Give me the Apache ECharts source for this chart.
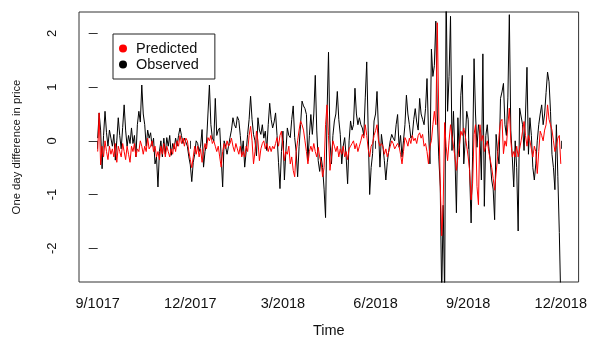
<!DOCTYPE html>
<html>
<head>
<meta charset="utf-8">
<script src="https://cdn.jsdelivr.net/npm/echarts@6/dist/echarts.min.js"></script>
<style>
html,body{margin:0;padding:0;background:#fff;}
#chart{width:590px;height:343px;}
</style>
</head>
<body>
<div id="chart"></div>
<script>
// tick labels at months 0,3,6,9,12,15 after the start of the series
var tickMonths = [0, 3, 6, 9, 12, 15];
var tickLabels = ['9/1017', '12/2017', '3/2018', '6/2018', '9/2018', '12/2018'];
var yTicks = [-2, -1, 0, 1, 2];

var observed = [
 0.05,0.52,0.2,-0.52,0.1,0.55,0.15,-0.1,0.2,0.05,
 -0.1,0.12,-0.36,0.0,0.43,0.1,-0.15,0.25,0.67,0.2,
 -0.1,0.1,-0.05,0.24,-0.05,0.1,-0.3,0.3,0.55,0.35,
 1.04,0.5,0.3,-0.1,0.2,0.05,0.15,-0.1,0.05,-0.43,
 -0.3,-0.86,-0.2,0.0,-0.3,0.05,-0.25,0.06,-0.1,0.1,
 -0.27,-0.05,-0.15,0.05,-0.1,0.1,0.24,0.1,-0.05,0.05,
 0.06,-0.1,-0.3,-0.45,-0.76,-0.4,-0.25,0.0,-0.05,-0.2,
 -0.1,0.21,-0.49,-0.2,-0.05,0.5,1.04,0.3,0.05,0.0,
 0.79,0.1,0.2,0.24,-0.3,-0.86,0.0,-0.1,-0.25,-0.1,
 0.06,0.2,0.43,0.3,0.24,0.45,0.38,0.1,-0.25,0.0,
 -0.49,-0.2,0.12,0.4,0.83,0.4,0.12,0.0,-0.28,0.43,
 0.2,0.12,0.3,0.05,0.18,-0.18,0.3,0.7,0.4,0.24,
 0.35,0.52,0.1,-0.4,-0.89,-0.2,0.18,-0.73,-0.2,0.24,
 0.1,0.06,0.4,0.65,0.06,-0.2,-0.67,-0.1,0.3,0.74,
 0.65,0.6,0.49,-0.37,0.1,0.49,0.12,0.5,1.22,0.2,
 -0.37,-0.57,
 -0.3,-0.5,-0.9,-1.43,0.5,1.65,0.0,-0.43,0.1,0.37,
 0.5,0.92,0.4,0.12,-0.43,-0.1,0.06,-0.3,-0.8,0.0,
 0.37,0.2,0.3,0.98,0.5,0.3,0.43,0.3,0.24,0.1,
 0.8,1.47,0.2,-1.0,-0.5,-0.24,0.37,0.5,0.92,0.2,
 -0.49,0.12,-0.1,-0.37,-0.73,-0.4,-0.18,0.0,0.12,0.05,
 0.0,0.3,0.49,
 -0.12,0.1,-0.3,0.0,0.3,0.85,0.5,0.3,0.05,0.1,
 0.4,0.6,0.35,0.2,0.79,0.5,0.4,0.3,0.6,1.16,
 0.2,-0.43,1.71,1.2,1.4,2.23,0.5,-0.3,-0.86,-2.9,
 -1.2,-2.9,2.8,0.55,1.2,2.32,-0.18,0.55,-0.3,-1.34,
 0.43,-0.3,0.85,1.22,-0.43,0.0,0.55,0.4,-0.6,-1.53,
 -0.3,1.53,0.5,
 -0.12,0.3,0.1,-0.73,1.62,-1.22,0.1,0.3,-0.1,-0.37,
 -0.73,-0.9,-1.47,0.12,-0.2,-0.43,0.79,0.91,1.07,0.3,
 0.1,0.8,2.35,0.2,-0.3,-0.86,0.0,-0.5,-1.68,0.61,
 0.61,0.3,-0.18,0.5,1.37,-0.25,0.43,0.1,-0.5,-0.73,
 -0.43,0.0,0.3,0.5,0.67,0.3,0.5,0.9,1.28,1.1,
 0.55,-0.25,-0.5,-0.91,0.3,-0.67,-1.71,-3.0
];

var predicted = [
 -0.2,0.52,-0.45,-0.1,-0.3,0.0,-0.2,-0.35,-0.1,-0.25,
 -0.15,-0.3,-0.05,-0.4,-0.1,-0.2,-0.3,-0.05,-0.2,-0.35,
 -0.1,-0.25,-0.4,-0.1,-0.2,-0.05,-0.3,-0.15,-0.2,0.0,
 -0.1,-0.25,-0.1,-0.2,0.05,-0.15,-0.1,0.0,-0.2,-0.1,
 -0.3,-0.2,-0.35,-0.1,-0.25,-0.05,-0.3,-0.1,-0.2,-0.3,
 -0.15,-0.25,-0.05,-0.2,0.0,-0.1,0.1,-0.05,0.05,-0.1,
 0.05,0.0,-0.2,-0.35,-0.5,-0.3,-0.1,-0.25,-0.1,-0.3,
 -0.15,-0.4,-0.2,-0.05,-0.15,0.06,0.0,0.1,-0.05,0.0,
 -0.1,-0.2,-0.1,-0.3,-0.49,-0.2,-0.05,-0.15,0.0,-0.1,
 -0.05,0.05,-0.1,-0.2,-0.05,-0.15,-0.25,-0.1,-0.3,-0.2,
 -0.3,-0.1,-0.2,0.1,0.27,0.0,-0.43,-0.2,0.18,0.0,
 -0.37,-0.15,-0.05,0.0,-0.15,-0.05,-0.2,-0.1,-0.2,-0.1,
 -0.15,-0.05,0.06,-0.1,0.1,0.18,-0.1,-0.37,-0.2,-0.25,
 -0.1,-0.43,-0.3,-0.55,-0.67,-0.2,0.0,0.2,0.37,0.3,
 0.2,0.0,-0.2,-0.43,-0.2,-0.1,-0.2,-0.05,-0.2,-0.3,
 -0.12,-0.3,
 -0.4,-0.67,-0.5,0.3,0.67,0.1,-0.55,-0.3,0.0,-0.1,
 -0.2,-0.1,-0.3,-0.15,-0.25,-0.1,-0.3,-0.2,-0.35,-0.15,
 -0.1,-0.05,0.0,-0.15,-0.05,-0.2,-0.1,0.0,0.12,0.05,
 0.3,0.1,-0.15,-0.3,-0.1,-0.05,0.1,0.19,0.3,0.0,
 -0.1,-0.05,-0.1,-0.25,-0.15,-0.3,-0.2,-0.1,0.0,-0.05,
 -0.15,-0.1,-0.05,
 -0.1,-0.25,-0.43,-0.2,0.06,0.0,-0.1,0.05,-0.05,0.1,
 0.0,0.05,-0.05,0.1,0.15,0.05,0.12,-0.1,-0.05,-0.2,
 -0.43,-0.1,0.0,0.3,0.55,0.3,2.2,0.5,-0.8,-1.77,
 -1.2,0.34,-0.1,-0.37,0.0,0.3,0.1,-0.1,-0.3,-0.55,
 -0.3,-0.1,0.18,0.1,0.24,0.1,-0.1,-0.3,-0.55,-1.1,
 -0.8,0.12,0.3,
 -0.85,-1.19,0.3,0.0,0.1,-0.2,-0.1,0.0,-0.2,-0.35,
 -0.5,-0.7,-0.92,-0.6,-0.3,0.1,0.36,0.4,-0.24,0.0,
 -0.1,0.3,0.61,0.0,-0.3,-0.2,-0.3,-0.1,-0.3,-0.15,
 0.0,0.18,0.36,0.1,-0.1,0.1,0.0,-0.15,-0.3,-0.1,
 -0.2,-0.61,-0.2,0.18,0.1,0.0,0.2,0.3,0.67,0.4,
 0.3,0.2,0.0,-0.2,-0.1,0.05,0.1,-0.43
];

var spanMonths = tickMonths[tickMonths.length - 1];
function toXY(arr) {
  var n = arr.length;
  return arr.map(function (v, i) { return [i * spanMonths / (n - 1), v]; });
}

var chart = echarts.init(document.getElementById('chart'), null, {renderer: 'canvas'});
var font = 'Liberation Sans, Arial, sans-serif';
chart.setOption({
  animation: false,
  backgroundColor: '#ffffff',
  grid: {left: 79, top: 12, right: 10.5, bottom: 56, show: true, borderColor: '#333', borderWidth: 1, containLabel: false},
  legend: {
    data: ['Predicted', 'Observed'],
    orient: 'vertical',
    left: 113, top: 34,
    padding: [7, 16, 7, 6],
    itemGap: 1,
    itemWidth: 16, itemHeight: 8,
    icon: 'circle',
    borderColor: '#222', borderWidth: 1,
    textStyle: {fontFamily: font, fontSize: 14.5, color: '#111'}
  },
  xAxis: {
    type: 'value',
    min: -0.605, max: 15.577,
    name: 'Time', nameLocation: 'middle', nameGap: 41,
    nameTextStyle: {fontFamily: font, fontSize: 14.5, color: '#111'},
    axisLine: {show: false},
    splitLine: {show: false},
    axisTick: {show: true, inside: false, length: 8, lineStyle: {color: '#333'}, customValues: tickMonths},
    axisLabel: {
      customValues: tickMonths, margin: 14,
      fontFamily: font, fontSize: 14.5, color: '#111',
      formatter: function (v) { var k = tickMonths.indexOf(Math.round(v)); return k >= 0 ? tickLabels[k] : ''; }
    }
  },
  yAxis: {
    type: 'value',
    min: -2.63, max: 2.40,
    name: 'One day difference in price', nameLocation: 'middle', nameGap: 57, nameRotate: 90,
    nameTextStyle: {fontFamily: font, fontSize: 11.3, color: '#111'},
    axisLine: {show: false},
    splitLine: {show: false},
    axisTick: {show: true, inside: false, length: 9, lineStyle: {color: '#333'}, customValues: yTicks},
    axisLabel: {customValues: yTicks, rotate: 90, margin: 20, fontFamily: font, fontSize: 13, color: '#111'}
  },
  series: [
    {name: 'Observed', type: 'line', data: toXY(observed), showSymbol: false, symbol: 'none', clip: true,
     color: '#000', lineStyle: {color: '#000', width: 1}},
    {name: 'Predicted', type: 'line', data: toXY(predicted), showSymbol: false, symbol: 'none', clip: true,
     color: '#ff0000', lineStyle: {color: '#ff0000', width: 1}}
  ]
});
</script>
</body>
</html>
